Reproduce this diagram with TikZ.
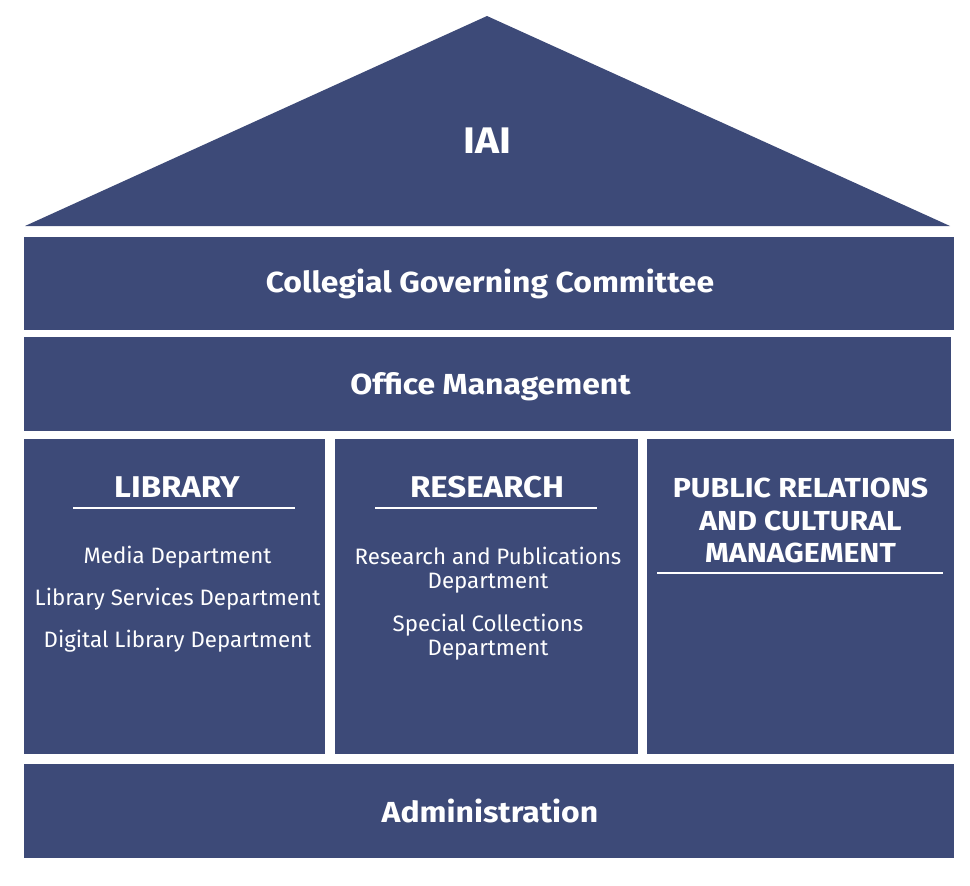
\documentclass[tikz,border=0pt]{standalone}
\usepackage{fontspec}
\setmainfont{Fira Sans}[BoldFeatures={FakeStretch=1.1}]
\definecolor{iaiblue}{RGB}{61,74,120}

\begin{document}
\begin{tikzpicture}[x=1pt,y=-1pt]
	\tikzstyle{every node}+=[inner sep=0pt, text=white]
	\tikzstyle{block}=[fill=iaiblue, rectangle]
	\tikzstyle{title}=[font=\fontsize{29}{32}\selectfont\bfseries, anchor=base]
	\tikzstyle{head}=[font=\fontsize{30}{32}\selectfont\bfseries, anchor=base]
	\tikzstyle{prhead}=[font=\fontsize{27.5}{32}\selectfont\bfseries, anchor=base]
	\tikzstyle{dept}=[font=\fontsize{22.3}{25}\selectfont, anchor=base]
	\tikzstyle{rule}=[white, line width=1.5pt]
	\useasboundingbox (0,0) rectangle (970,886);
	% roof
	\fill [iaiblue] (25,226) -- (487,16) -- (950,226) -- cycle;
	\node [title, font=\fontsize{37}{40}\selectfont\bfseries] (iai) at (487.5,153) {IAI};
	% bands
	\node [block, minimum width=930, minimum height=93] (cgcbox) at (489,283.5) {};
	\node [title] (cgc) at (490,292) {Collegial Governing Committee};
	\node [block, minimum width=927, minimum height=94] (officebox) at (487.5,384) {};
	\node [title] (office) at (490.5,394) {Office Management};
	\node [block, minimum width=930, minimum height=94] (adminbox) at (489,811) {};
	\node [title] (admin) at (490,822) {Administration};
	% columns
	\node [block, minimum width=301, minimum height=315] (libbox) at (174.5,596.5) {};
	\node [block, minimum width=303, minimum height=315] (resbox) at (486.5,596.5) {};
	\node [block, minimum width=307, minimum height=315] (prbox) at (800.5,596.5) {};
	% library
	\node [head] (lib) at (177,497) {LIBRARY};
	\draw [rule] (73,508) -- (295,508);
	\node [dept] (media) at (177.5,563) {Media Department};
	\node [dept] (libserv) at (177.5,605) {Library Services Department};
	\node [dept] (digilib) at (177.5,647) {Digital Library Department};
	% research
	\node [head] (res) at (487,497) {RESEARCH};
	\draw [rule] (375,508) -- (597,508);
	\node [dept] (respub) at (488,564) {Research and Publications};
	\node [dept] (respubb) at (488,588) {Department};
	\node [dept] (special) at (488,631) {Special Collections};
	\node [dept] (speciall) at (488,655) {Department};
	% public relations
	\node [prhead] (pr) at (800.5,497) {PUBLIC RELATIONS};
	\node [prhead] (prr) at (800.5,530) {AND CULTURAL};
	\node [prhead] (prrr) at (800.5,562) {MANAGEMENT};
	\draw [rule] (657,573) -- (943,573);
\end{tikzpicture}
\end{document}
